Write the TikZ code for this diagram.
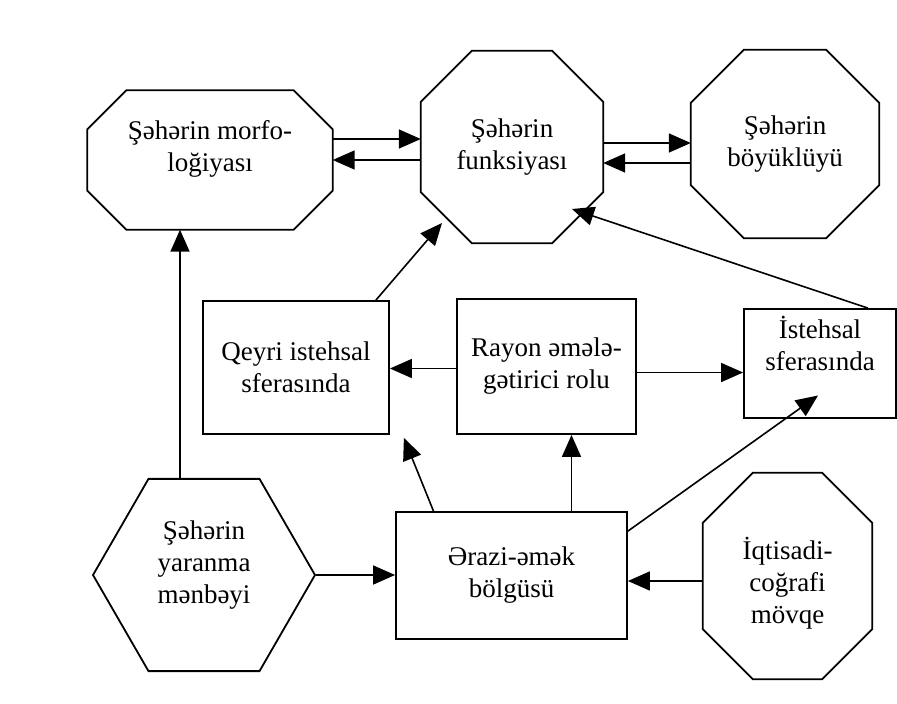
\documentclass[tikz,border=0pt]{standalone}
\usepackage{fontspec}
\setmainfont{Liberation Serif}
\usetikzlibrary{calc}
\usetikzlibrary{shapes.geometric}
\usetikzlibrary{arrows.meta}

\tikzset{
  box/.style={draw,rectangle,line width=1.8pt,align=center,inner sep=0pt},
  octbox/.style={rectangle,align=center,inner sep=0pt},
  hexa/.style={draw,regular polygon,regular polygon sides=6,
    line width=1.8pt,align=center,inner sep=0pt},
  lift/.style={text depth=10pt,text height=#1},
  arr/.style={line width=1.6pt,-{Triangle[length=22pt,width=19pt]}},
}

% octagon round a named text node: name, at, width, height, chamfer, options, text
\newcommand{\octnode}[7]{%
  \node[octbox,minimum width=#3,minimum height=#4,#6] (#1) at #2 {#7};
  \draw[line width=1.8pt]
    ([xshift=#5]#1.north west) -- ([xshift=-#5]#1.north east) --
    ([yshift=-#5]#1.north east) -- ([yshift=#5]#1.south east) --
    ([xshift=-#5]#1.south east) -- ([xshift=#5]#1.south west) --
    ([yshift=#5]#1.south west) -- ([yshift=-#5]#1.north west) -- cycle;
}

\begin{document}
\begin{tikzpicture}[x=1pt,y=-1pt]
  \path[use as bounding box] (0,0) rectangle (897,704);
  \fontsize{27}{32}\selectfont

  % Top row {{{
  \octnode{morf}{(210,160)}{245pt}{139pt}{39pt}{lift=32pt}{Şəhərin morfo-\\loğiyası}
  \octnode{funk}{(512,147)}{182pt}{192pt}{51pt}{}{Şəhərin\\funksiyası}
  \octnode{boyuk}{(785,144)}{188pt}{188pt}{53pt}{}{Şəhərin\\böyüklüyü}
  % }}}

  % Middle row {{{
  \node[box,minimum width=186pt,minimum height=133pt]
    (qeyri) at (296,367.5) {Qeyri istehsal\\sferasında};
  \node[box,minimum width=179pt,minimum height=135pt]
    (rayon) at (546.5,366.5) {Rayon əmələ-\\gətirici rolu};
  \node[box,minimum width=152pt,minimum height=109pt,lift=24pt]
    (isteh) at (820,363.5) {İstehsal\\sferasında};
  % }}}

  % Bottom row {{{
  \node[hexa,minimum size=222pt,lift=66pt]
    (hex) at (204,575) {Şəhərin\\yaranma\\mənbəyi};
  \node[box,minimum width=231pt,minimum height=127pt]
    (erazi) at (511.5,575.5) {Ərazi-əmək\\bölgüsü};
  \octnode{iqtis}{(787.5,576)}{169pt}{206pt}{50pt}{lift=104pt}{İqtisadi-\\coğrafi\\mövqe}
  % }}}

  % Connectors {{{
  \draw[arr] ([yshift=21pt]morf.east) -- ([yshift=21pt]morf.east -| funk.west);
  \draw[arr] (funk.west |- morf.east) -- (morf.east);
  \draw[arr] ([yshift=4pt]funk.east) -- ([yshift=4pt]funk.east -| boyuk.west);
  \draw[arr] ([yshift=-16pt]funk.east -| boyuk.west) -- ([yshift=-16pt]funk.east);

  \draw[arr] ([xshift=-24pt]hex.north) -- ([xshift=-24pt]hex.north |- morf.south);
  \draw[arr] (hex.east) -- (hex.east -| erazi.west);
  \draw[arr] ([yshift=-5pt]iqtis.west) -- ([yshift=-5pt]iqtis.west -| erazi.east);

  \draw[arr] ([xshift=60pt]erazi.north) -- ([xshift=60pt]erazi.north |- rayon.south);
  \draw[arr] ([xshift=-78pt]erazi.north) -- ([xshift=14pt,yshift=-3pt]qeyri.south east);
  \draw[arr] ([yshift=-20pt]erazi.north east) -- ([xshift=-2pt,yshift=-32pt]isteh.center);

  \draw[arr] ([yshift=-2pt]rayon.west) -- ([yshift=-2pt]rayon.west -| qeyri.east);
  \draw[arr] ([yshift=-6pt]rayon.east) -- ([yshift=-6pt]rayon.east -| isteh.west);

  \draw[arr] ([xshift=-14pt]qeyri.north east) -- ([xshift=-70pt,yshift=-76pt]funk.center);
  \draw[arr] ([xshift=-29pt]isteh.north east) -- ([xshift=60pt,yshift=-62pt]funk.center);
  % }}}
\end{tikzpicture}
\end{document}
